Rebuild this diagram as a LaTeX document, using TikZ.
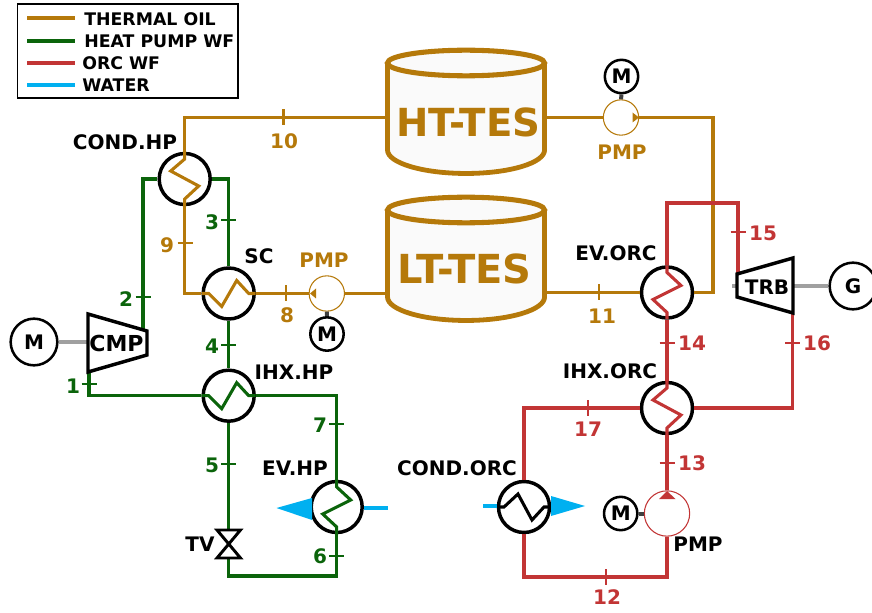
\documentclass[tikz,border=0pt]{standalone}
\usepackage{fontspec}
\setmainfont{DejaVu Sans}
\definecolor{oil}{HTML}{B5790A}
\definecolor{hpg}{HTML}{0B640B}
\definecolor{orc}{HTML}{C23535}
\definecolor{wat}{HTML}{00B0F0}
\definecolor{shaft}{HTML}{A0A0A0}
\definecolor{tankfill}{HTML}{FAFAFA}
\tikzset{
  x=0.75pt,y=-0.75pt,
  txt/.style={font=\fontsize{15pt}{16pt}\selectfont\bfseries,inner sep=0pt,text=black},
  legtxt/.style={font=\fontsize{13pt}{14pt}\selectfont\bfseries,inner sep=0pt,text=black},
  mtxt/.style={font=\fontsize{16.5pt}{17pt}\selectfont\bfseries,inner sep=0pt,text=black},
  tanktxt/.style={font=\fontsize{29pt}{30pt}\selectfont\bfseries,inner sep=0pt,text=oil},
  tanktxtb/.style={font=\fontsize{30pt}{31pt}\selectfont\bfseries,inner sep=0pt,text=oil},
  hx/.style={circle,draw=black,line width=2.6pt,minimum size=38.25pt,inner sep=0pt},
  mot/.style={circle,draw=black,line width=1.9pt,inner sep=0pt},
  pumpc/.style={circle,line width=0.8pt,inner sep=0pt},
  pipe/.style={line width=2.4pt,line join=miter},
  legline/.style={line width=2.4pt},
  tickm/.style={line width=1.8pt},
  mach/.style={draw=black,line width=2.6pt,line join=miter,fill=white},
  coildn/.pic={\path[pic actions,line width=2.3pt,fill=none] (0,-27) -- (0,-20) -- (-14,-8) -- (14,7) -- (0,20) -- (0,27);},
  coilup/.pic={\path[pic actions,line width=2.3pt,fill=none] (0,-27) -- (0,-20) -- (14,-7) -- (-14,7) -- (0,20) -- (0,27);},
  coilh/.pic={\path[pic actions,line width=2.3pt,fill=none] (-27,0) -- (-20,0) -- (-7,13) -- (8,-13) -- (20,0) -- (27,0);},
  coilhm/.pic={\path[pic actions,line width=2.3pt,fill=none] (-27,0) -- (-20,0) -- (-6,-13) -- (8,13) -- (20,0) -- (27,0);},
}
\newcommand{\tickH}[2]{\draw[tickm,#1] (#2) ++(-7.5,0) -- ++(15,0);}
\newcommand{\tickV}[2]{\draw[tickm,#1] (#2) ++(0,-8) -- ++(0,16);}
\newcommand{\tank}[4]{%
  \fill[tankfill] (387.5,#1) -- (387.5,#2) arc[start angle=180,end angle=360,x radius=58.9pt,y radius=#4] -- (544.5,#1) -- cycle;
  \draw[oil,line width=3.2pt] (387.5,#1) -- (387.5,#2) (544.5,#2) -- (544.5,#1);
  \draw[oil,line width=3.6pt,line cap=round] (387.5,#2) arc[start angle=180,end angle=360,x radius=58.9pt,y radius=#4];
  \draw[oil,line width=3.8pt,fill=tankfill] (466,#1) ellipse[x radius=58.9pt,y radius=9.6pt];
}
\begin{document}
\begin{tikzpicture}
\useasboundingbox (0,0) rectangle (872,613);
% legend
\draw[black,line width=1.2pt] (17.5,4) rectangle (238,98);
\coordinate (la) at (27,18); \coordinate (lb) at (75,18);
\coordinate (lc) at (27,41); \coordinate (ld) at (75,41);
\coordinate (le) at (27,63); \coordinate (lf) at (75,63);
\coordinate (lg) at (27,85); \coordinate (lh) at (75,85);
\draw[oil,legline] (la) -- (lb);
\draw[hpg,legline] (lc) -- (ld);
\draw[orc,legline] (le) -- (lf);
\draw[wat,legline] (lg) -- (lh);
\node[legtxt,anchor=west] (l1) at (84,19) {THERMAL OIL};
\node[legtxt,anchor=west] (l2) at (84,41) {HEAT PUMP WF};
\node[legtxt,anchor=west] (l3) at (82,63) {ORC WF};
\node[legtxt,anchor=west] (l4) at (82,85) {WATER};
% tanks
\tank{63}{150}{173.5}{17.6pt}
\tank{210}{297}{320.5}{17.6pt}
\node[tanktxt] (ht) at (468.5,122.5) {HT-TES};
\node[tanktxtb] (lt) at (464.5,268.5) {LT-TES};
\coordinate (htW) at (386,117.5); \coordinate (htE) at (546,117.5);
\coordinate (ltW) at (386,293.5); \coordinate (ltE) at (546,292.5);
% exchangers
\node[hx] (condhp) at (184.7,179) {};
\node[hx] (sc) at (228.7,293.5) {};
\node[hx] (ihxhp) at (228.7,395.7) {};
\node[hx] (evhp) at (336.7,507) {};
\node[hx] (evorc) at (667,292.5) {};
\node[hx] (ihxorc) at (667,408) {};
\node[hx] (condorc) at (524,507) {};
% pumps and motors
\node[pumpc,draw=oil,minimum size=26.5pt] (pmpa) at (326.8,293.5) {};
\node[pumpc,draw=oil,minimum size=26.5pt] (pmpb) at (621,117.5) {};
\node[pumpc,draw=orc,minimum size=34pt] (pmpc) at (667,513.5) {};
\node[mot,minimum size=25pt,txt] (ma) at (327,334) {M};
\node[mot,minimum size=25pt,txt] (mb) at (621.5,76.5) {M};
\node[mot,minimum size=25pt,txt] (mc) at (620.7,513.5) {M};
\node[mot,minimum size=35pt,txt] (md) at (34,342) {M};
\node[mot,minimum size=35pt,txt] (g) at (853,286) {G};
% shafts
\draw[black!75,line width=3pt] (pmpa.south) -- (ma.north);
\draw[black!75,line width=3pt] (pmpb.north) -- (mb.south);
\draw[black!75,line width=3pt] (pmpc.west) -- (mc.east);
% machines
\coordinate (cmpS) at (88,342); \coordinate (trbE) at (793,286); \coordinate (trbS) at (732,286); \coordinate (trbI) at (738,286);
\draw[shaft,line width=2.6pt] (md.east) -- (cmpS);
\draw[shaft,line width=2.6pt] (g.west) -- (trbE);
\draw[shaft,line width=2.6pt] (trbS) -- (trbI);
% oil pipes
\coordinate (oilR) at (713,200);
\draw[pipe,oil] (condhp.north) |- (htW);
\draw[pipe,oil] (condhp.south) |- (sc.west);
\draw[pipe,oil] (sc.east) -- (pmpa.west);
\draw[pipe,oil] (pmpa.east) -- (ltW);
\draw[pipe,oil] (htE) -- (pmpb.west);
\draw[pipe,oil] (pmpb.east) -| (oilR) |- (evorc.east);
\draw[pipe,oil] (ltE) -- (evorc.west);
% green pipes
\coordinate (cmpO) at (143,333); \coordinate (cmpI) at (89,372);
\coordinate (tvT) at (228.7,530); \coordinate (tvB) at (228.7,558);
\draw[pipe,hpg] (cmpO) |- (condhp.west);
\draw[pipe,hpg] (condhp.east) -| (sc.north);
\draw[pipe,hpg] (sc.south) -- (ihxhp.north);
\draw[pipe,hpg] (ihxhp.west) -| (cmpI);
\draw[pipe,hpg] (ihxhp.east) -| (evhp.north);
\draw[pipe,hpg] (ihxhp.south) -- (tvT);
\draw[pipe,hpg] (tvB) |- (336.7,576) -- (evhp.south);
% red pipes
\coordinate (redT) at (738,203); \coordinate (trbO) at (792.5,313); \coordinate (trbA) at (738,274);
\coordinate (redB) at (524,577);
\draw[pipe,orc] (evorc.north) |- (redT) -- (trbA);
\draw[pipe,orc] (trbO) |- (ihxorc.east);
\draw[pipe,orc] (evorc.south) -- (ihxorc.north);
\draw[pipe,orc] (ihxorc.south) -- (pmpc.north);
\draw[pipe,orc] (ihxorc.west) -| (condorc.north);
\draw[pipe,orc] (condorc.south) |- (redB -| pmpc.south) -- (pmpc.south);
% machine bodies
\draw[mach] (88,314) -- (147,331) -- (147,355) -- (88,372) -- cycle;
\draw[mach] (737,274) -- (793,258) -- (793,313) -- (737,297) -- cycle;
\node[mtxt] (cmp) at (116.5,343) {CMP};
\node[txt] (trb) at (767,287) {TRB};
% valve
\draw[black,line width=2.2pt,line join=miter] (217,530) -- (240.5,530) -- (217,558) -- (240.5,558) -- cycle;
% coils
\pic[draw=oil] at (condhp.center) {coildn};
\pic[draw=oil] at (sc.center) {coilh};
\pic[draw=hpg] at (ihxhp.center) {coilh};
\pic[draw=hpg] at (evhp.center) {coilup};
\pic[draw=orc] at (evorc.center) {coilup};
\pic[draw=orc] at (ihxorc.center) {coildn};
\pic[draw=black] at (condorc.center) {coilhm};
% water
\coordinate (wa) at (364,508); \coordinate (wb) at (388,508);
\coordinate (wc) at (483,506); \coordinate (wd) at (497,506);
\draw[wat,legline] (wa) -- (wb);
\draw[wat,legline] (wc) -- (wd);
\fill[wat] (276.5,508) -- (312,498) -- (312,520) -- cycle;
\fill[wat] (585,506) -- (551,496) -- (551,516) -- cycle;
% pump arrows
\fill[oil] (310,293.5) -- (316,288.5) -- (316,298.5) -- cycle;
\fill[oil] (639,117.5) -- (632.5,112.5) -- (632.5,122.5) -- cycle;
\fill[orc] (667,491) -- (659,499) -- (675.5,499) -- cycle;
% tick marks
\coordinate (t1) at (89,384); \coordinate (t2) at (143,297); \coordinate (t3) at (228.7,220);
\coordinate (t4) at (228.7,345); \coordinate (t5) at (228.7,464); \coordinate (t6) at (336.7,556);
\coordinate (t7) at (336.7,424); \coordinate (t8) at (285.7,293.5); \coordinate (t9) at (185,243);
\coordinate (t10) at (283.5,117.5); \coordinate (t11) at (599,292.5); \coordinate (t12) at (605.7,577);
\coordinate (t13) at (667,463); \coordinate (t14) at (667,343); \coordinate (t15) at (738,232);
\coordinate (t16) at (792.5,343); \coordinate (t17) at (587.7,408);
\tickH{hpg}{t1}\tickH{hpg}{t2}\tickH{hpg}{t3}\tickH{hpg}{t4}\tickH{hpg}{t5}\tickH{hpg}{t6}\tickH{hpg}{t7}
\tickV{oil}{t8}\tickH{oil}{t9}\tickV{oil}{t10}\tickV{oil}{t11}
\tickV{orc}{t12}\tickH{orc}{t13}\tickH{orc}{t14}\tickH{orc}{t15}\tickH{orc}{t16}\tickV{orc}{t17}
% labels
\node[txt] (n1) at (125,142) {COND.HP};
\node[txt] (n2) at (259,256) {SC};
\node[txt,text=oil] (n3) at (324,260) {PMP};
\node[txt,text=oil] (n4) at (622,152) {PMP};
\node[txt] (n5) at (294,372) {IHX.HP};
\node[txt] (n6) at (295,468) {EV.HP};
\node[txt] (n7) at (200,544) {TV};
\node[txt] (n8) at (610,371) {IHX.ORC};
\node[txt] (n9) at (616,253) {EV.ORC};
\node[txt] (n10) at (457,468) {COND.ORC};
\node[txt] (n11) at (698,544) {PMP};
\node[txt,text=hpg] (s1) at (73,386) {1};
\node[txt,text=hpg] (s2) at (126,299) {2};
\node[txt,text=hpg] (s3) at (212,222) {3};
\node[txt,text=hpg] (s4) at (212,346) {4};
\node[txt,text=hpg] (s5) at (212,465) {5};
\node[txt,text=hpg] (s6) at (320,556) {6};
\node[txt,text=hpg] (s7) at (320,425) {7};
\node[txt,text=oil] (s8) at (287,315) {8};
\node[txt,text=oil] (s9) at (167,245) {9};
\node[txt,text=oil] (s10) at (284,141) {10};
\node[txt,text=oil] (s11) at (602,316) {11};
\node[txt,text=orc] (s12) at (607,597) {12};
\node[txt,text=orc] (s13) at (692,463) {13};
\node[txt,text=orc] (s14) at (692,343) {14};
\node[txt,text=orc] (s15) at (763,233) {15};
\node[txt,text=orc] (s16) at (817,343) {16};
\node[txt,text=orc] (s17) at (588,429) {17};
\end{tikzpicture}
\end{document}
